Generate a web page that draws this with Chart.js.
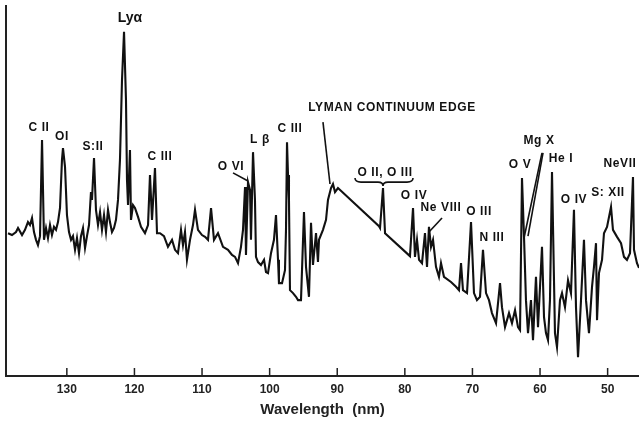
<!DOCTYPE html>
<html>
<head>
<meta charset="utf-8">
<script src="https://cdn.jsdelivr.net/npm/chart.js@4.4.1/dist/chart.umd.min.js"></script>
<style>
  html, body { margin: 0; padding: 0; background: #fff; }
  canvas { display: block; }
</style>
</head>
<body>
<canvas id="spectrum" width="639" height="425"></canvas>
<script>
// wavelength (nm) and relative intensity
const wavelength = [
  138.70, 138.11, 137.52, 137.22, 136.63, 136.19, 135.75, 135.45, 135.15, 134.86,
  134.56, 134.27, 133.97, 133.67, 133.38, 133.08, 132.79, 132.49, 132.20, 131.90,
  131.60, 131.31, 131.01, 130.72, 130.57, 130.27, 129.98, 129.68, 129.38, 129.09,
  128.79, 128.50, 128.20, 127.91, 127.61, 127.31, 127.02, 126.72, 126.43, 126.28,
  125.98, 125.69, 125.39, 125.09, 124.80, 124.50, 124.21, 123.91, 123.62, 123.32,
  123.02, 122.73, 122.43, 122.14, 121.84, 121.54, 121.25, 121.10, 120.95, 120.66,
  120.51, 120.21, 119.92, 119.47, 119.03, 118.44, 117.99, 117.70, 117.40, 116.96,
  116.66, 116.22, 115.63, 115.04, 114.44, 114.00, 113.56, 113.11, 112.82, 112.52,
  112.23, 111.78, 111.34, 111.04, 110.60, 110.01, 109.56, 109.12, 108.67, 108.23,
  107.64, 106.90, 106.16, 105.57, 105.12, 104.68, 104.24, 103.94, 103.64, 103.50,
  103.20, 102.90, 102.76, 102.46, 102.17, 102.02, 101.72, 101.28, 100.83, 100.54,
  100.24, 99.80, 99.36, 99.06, 98.76, 98.62, 98.17, 97.73, 97.58, 97.43,
  97.28, 97.14, 96.99, 96.54, 96.10, 95.80, 95.36, 94.92, 94.62, 94.18,
  93.88, 93.59, 93.14, 92.85, 92.70, 92.11, 91.66, 91.37, 90.92, 90.63,
  90.33, 89.89, 83.82, 83.67, 83.23, 82.93, 79.24, 78.79, 78.50, 78.20,
  77.90, 77.46, 77.02, 76.72, 76.43, 76.13, 75.83, 75.39, 74.95, 74.65,
  74.21, 73.17, 72.43, 71.99, 71.69, 71.40, 70.80, 70.21, 69.77, 69.33,
  68.88, 68.44, 67.99, 67.55, 67.11, 66.51, 65.92, 65.63, 65.18, 64.59,
  64.15, 63.70, 63.26, 62.96, 62.67, 62.37, 62.08, 61.78, 61.34, 61.04,
  60.60, 60.30, 59.71, 59.41, 59.12, 58.82, 58.53, 58.23, 57.79, 57.49,
  57.05, 56.75, 56.31, 55.86, 55.42, 54.98, 54.68, 54.38, 53.94, 53.50,
  53.20, 52.76, 52.31, 52.02, 51.72, 51.57, 51.28, 50.83, 50.54, 50.09,
  49.50, 49.21, 48.61, 48.02, 47.58, 47.14, 46.69, 46.25, 46.10, 45.66,
  45.36
];
const intensity = [
  38.6, 38.1, 38.9, 40.0, 38.1, 39.5, 41.6, 40.8, 42.7, 38.9,
  36.8, 35.4, 37.8, 63.8, 36.8, 40.0, 37.3, 40.8, 38.1, 40.3,
  39.5, 41.6, 45.4, 58.4, 61.6, 56.5, 43.5, 38.9, 36.8, 37.8,
  34.1, 37.3, 33.2, 37.8, 40.0, 34.6, 37.8, 40.8, 49.7, 47.6,
  58.9, 44.9, 40.8, 44.3, 39.5, 43.5, 38.9, 44.9, 41.6, 38.9,
  40.0, 42.2, 47.6, 58.4, 80.0, 93.0, 74.6, 53.0, 46.2, 61.1,
  42.2, 46.2, 45.4, 43.0, 40.3, 38.6, 40.8, 54.3, 42.2, 56.2,
  38.6, 38.6, 37.8, 34.9, 36.8, 34.1, 33.2, 39.5, 35.4, 38.9,
  31.4, 36.8, 40.8, 44.9, 39.5, 38.1, 37.6, 36.8, 45.4, 36.8,
  38.6, 34.9, 34.1, 32.7, 32.2, 30.5, 34.9, 39.5, 51.1, 32.7,
  52.4, 50.3, 36.8, 60.5, 47.6, 32.2, 30.8, 30.0, 31.4, 28.1,
  27.8, 33.2, 36.8, 43.5, 31.4, 25.1, 25.1, 28.6, 39.5, 63.2,
  54.3, 47.6, 23.2, 22.4, 21.4, 20.5, 20.5, 44.3, 29.5, 21.4,
  41.4, 30.0, 38.6, 30.8, 36.8, 39.5, 42.2, 47.6, 50.8, 51.9,
  49.7, 50.8, 40.5, 40.0, 50.8, 38.6, 32.4, 45.4, 32.2, 36.8,
  31.4, 30.5, 38.6, 29.5, 40.3, 34.9, 36.8, 29.5, 26.8, 30.5,
  26.8, 25.4, 24.1, 23.2, 30.5, 23.2, 22.4, 41.6, 22.4, 20.5,
  21.4, 34.1, 22.4, 20.5, 17.0, 14.3, 25.1, 18.6, 13.2, 17.0,
  14.3, 17.8, 13.2, 12.4, 53.5, 37.6, 20.5, 11.6, 20.5, 9.7,
  26.8, 13.2, 34.9, 15.9, 11.6, 9.7, 20.5, 55.1, 11.6, 7.8,
  20.5, 22.4, 18.6, 25.9, 22.4, 44.9, 18.6, 5.1, 20.5, 36.8,
  20.5, 11.6, 24.1, 29.5, 35.9, 15.1, 27.8, 31.4, 38.6, 40.3,
  45.7, 39.5, 37.6, 35.9, 32.2, 31.4, 33.2, 53.8, 34.1, 30.5,
  29.2
];

const tickValues = [130, 120, 110, 100, 90, 80, 70, 60, 50];

// line identifications: text and where it sits (nm, intensity)
const lineNames = ['C II', 'OI', 'S:II', 'Lyα', 'C III', 'O VI', 'L β', 'C III',
  'LYMAN CONTINUUM EDGE', 'O II, O III', 'O IV', 'Ne VIII', 'O III', 'N III',
  'O V', 'Mg X', 'He I', 'O IV', 'S: XII', 'NeVII'];
const lineNm = [134.12, 130.72, 126.13, 120.66, 116.22, 105.72, 101.43, 96.99,
  81.90, 82.93, 78.64, 74.65, 69.03, 67.11,
  62.96, 60.15, 56.90, 54.98, 49.95, 48.17];
const lineLevel = [67.0, 64.6, 61.9, 96.8, 59.2, 56.5, 63.8, 66.8,
  72.4, 54.9, 48.6, 45.4, 44.3, 37.3,
  57.0, 63.5, 58.6, 47.6, 49.5, 57.3];

// leader lines from a label to its feature: [nm1, int1, nm2, int2]
const leaders = [
  [105.42, 54.9, 103.20, 52.7],
  [92.11, 68.6, 91.07, 51.9],
  [74.50, 42.7, 76.43, 38.9],
  [59.71, 60.3, 62.37, 37.3],
  [59.56, 60.3, 61.78, 37.8]
];
// brace under "O II, O III": left nm, centre nm, right nm, level
const brace = [87.37, 83.23, 78.79, 52.4];

const points = wavelength.map((w, i) => ({ x: w, y: intensity[i] }));

const annotate = {
  id: 'annotate',
  afterDatasetsDraw(chart) {
    const ctx = chart.ctx;
    const xs = chart.scales.x, ys = chart.scales.y;
    const area = chart.chartArea;
    ctx.save();
    // inward tick marks
    ctx.strokeStyle = '#222';
    ctx.lineWidth = 1.5;
    tickValues.forEach(v => {
      const px = xs.getPixelForValue(v);
      ctx.beginPath();
      ctx.moveTo(px, area.bottom);
      ctx.lineTo(px, area.bottom - 8);
      ctx.stroke();
    });
    // labels
    ctx.fillStyle = '#111';
    ctx.textAlign = 'center';
    ctx.textBaseline = 'middle';
    lineNames.forEach((name, i) => {
      const big = name === 'Lyα';
      ctx.font = big ? 'bold 14px "Liberation Sans", Arial' : 'bold 12px "Liberation Sans", Arial';
      ctx.letterSpacing = big ? '0px' : '0.6px';
      ctx.fillText(name, xs.getPixelForValue(lineNm[i]), ys.getPixelForValue(lineLevel[i]));
    });
    ctx.letterSpacing = '0px';
    // leaders
    ctx.strokeStyle = '#111';
    ctx.lineWidth = 1.6;
    leaders.forEach(l => {
      ctx.beginPath();
      ctx.moveTo(xs.getPixelForValue(l[0]), ys.getPixelForValue(l[1]));
      ctx.lineTo(xs.getPixelForValue(l[2]), ys.getPixelForValue(l[3]));
      ctx.stroke();
    });
    // brace
    const bl = xs.getPixelForValue(brace[0]);
    const bc = xs.getPixelForValue(brace[1]);
    const br = xs.getPixelForValue(brace[2]);
    const by = ys.getPixelForValue(brace[3]);
    ctx.beginPath();
    ctx.moveTo(bl, by - 4);
    ctx.quadraticCurveTo(bl, by, bl + 6, by);
    ctx.lineTo(bc - 5, by);
    ctx.quadraticCurveTo(bc, by, bc, by + 4);
    ctx.quadraticCurveTo(bc, by, bc + 5, by);
    ctx.lineTo(br - 6, by);
    ctx.quadraticCurveTo(br, by, br, by - 4);
    ctx.stroke();
    ctx.restore();
  }
};

new Chart(document.getElementById('spectrum'), {
  type: 'line',
  data: {
    datasets: [{
      data: points,
      borderColor: '#111',
      borderWidth: 2.1,
      pointRadius: 0,
      tension: 0,
      fill: false
    }]
  },
  options: {
    responsive: false,
    animation: false,
    layout: { padding: { left: 6, top: 6, right: 0, bottom: 0 } },
    plugins: { legend: { display: false }, tooltip: { enabled: false } },
    scales: {
      x: {
        type: 'linear',
        reverse: true,
        min: 45.36,
        max: 139,
        afterBuildTicks: s => { s.ticks = tickValues.map(v => ({ value: v })); },
        afterFit: s => { s.height = 49; },
        grid: { display: false, drawTicks: false },
        border: { display: true, color: '#222', width: 2 },
        ticks: {
          color: '#222',
          padding: 6,
          maxRotation: 0,
          font: { family: '"Liberation Sans", Arial', size: 12, weight: 'bold' }
        },
        title: {
          display: true,
          text: 'Wavelength  (nm)',
          color: '#222',
          padding: { top: 0, bottom: 6 },
          font: { family: '"Liberation Sans", Arial', size: 15, weight: 'bold' }
        }
      },
      y: {
        min: 0,
        max: 100,
        afterFit: s => { s.width = 0; },
        grid: { display: false, drawTicks: false },
        border: { display: true, color: '#222', width: 2 },
        ticks: { display: false }
      }
    }
  },
  plugins: [annotate]
});
</script>
</body>
</html>
